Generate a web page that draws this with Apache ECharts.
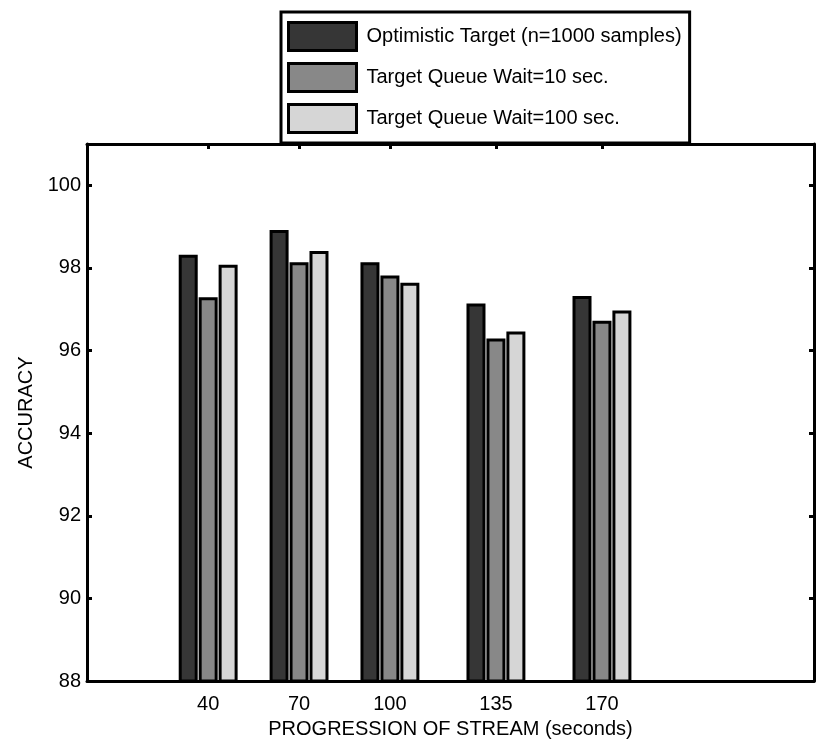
<!DOCTYPE html>
<html>
<head>
<meta charset="utf-8">
<script src="https://cdn.jsdelivr.net/npm/echarts@6/dist/echarts.min.js"></script>
<style>
  html, body { margin: 0; padding: 0; background: #fff; }
  #chart { width: 816px; height: 744px; }
</style>
</head>
<body>
<div id="chart"></div>
<script>
// Stream progression points (seconds) where accuracy was measured
const streamSeconds = [40, 70, 100, 135, 170];

// Accuracy per strategy
const optimisticTarget = [98.32, 98.92, 98.14, 97.14, 97.32];
const queueWait10 = [97.29, 98.14, 97.82, 96.29, 96.72];
const queueWait100 = [98.08, 98.41, 97.64, 96.46, 96.97];

const seriesNames = [
  'Optimistic Target (n=1000 samples)',
  'Target Queue Wait=10 sec.',
  'Target Queue Wait=100 sec.'
];

// Y axis tick values
const accuracyTicks = [88, 90, 92, 94, 96, 98, 100];

const FONT = 'Liberation Sans, Arial, sans-serif';
const fills = ['#363636', '#888888', '#d6d6d6'];

function pairs(values) {
  return streamSeconds.map((s, i) => [s, values[i]]);
}

function barSeries(name, values, color) {
  return {
    name: name,
    type: 'bar',
    data: pairs(values),
    barWidth: 19,
    barGap: '5%',
    itemStyle: { color: color, borderColor: '#000', borderWidth: 3 },
    emphasis: { disabled: true }
  };
}

const chart = echarts.init(document.getElementById('chart'), null, { renderer: 'canvas' });

const axisLine = { show: true, onZero: false, lineStyle: { color: '#000', width: 3 } };
const tickStyle = { color: '#000', width: 3 };

chart.setOption({
  animation: false,
  backgroundColor: '#fff',
  textStyle: { fontFamily: FONT },
  grid: { left: 87, right: 2, top: 144, bottom: 61, containLabel: false },
  legend: {
    orient: 'vertical',
    left: 281,
    top: 12,
    padding: [9, 8, 9, 6],
    itemWidth: 68,
    itemHeight: 28,
    itemGap: 10,
    icon: 'rect',
    backgroundColor: '#fff',
    borderColor: '#000',
    borderWidth: 3,
    borderRadius: 0,
    selectedMode: false,
    itemStyle: { borderColor: '#000', borderWidth: 3 },
    textStyle: { fontSize: 20, color: '#000', fontFamily: FONT, padding: [0, 0, 0, 5] },
    data: seriesNames
  },
  xAxis: [
    {
      type: 'value',
      min: 0,
      max: 240,
      position: 'bottom',
      name: 'PROGRESSION OF STREAM (seconds)',
      nameLocation: 'middle',
      nameGap: 33,
      nameTextStyle: { fontSize: 20, color: '#000', fontFamily: FONT, verticalAlign: 'top' },
      axisLine: axisLine,
      axisTick: { show: true, inside: true, length: 5, customValues: streamSeconds, lineStyle: tickStyle },
      axisLabel: { show: true, customValues: streamSeconds, fontSize: 20, color: '#000', margin: 13, fontFamily: FONT },
      splitLine: { show: false }
    },
    {
      type: 'value',
      min: 0,
      max: 240,
      position: 'top',
      axisLine: axisLine,
      axisTick: { show: true, inside: true, length: 5, customValues: streamSeconds, lineStyle: tickStyle },
      axisLabel: { show: false },
      splitLine: { show: false }
    }
  ],
  yAxis: [
    {
      type: 'value',
      min: 88,
      max: 101,
      position: 'left',
      name: 'ACCURACY',
      nameLocation: 'middle',
      nameRotate: 90,
      nameGap: 50,
      nameTextStyle: { fontSize: 20, color: '#000', fontFamily: FONT },
      axisLine: axisLine,
      axisTick: { show: true, inside: true, length: 5, customValues: accuracyTicks, lineStyle: tickStyle },
      axisLabel: { show: true, customValues: accuracyTicks, fontSize: 20, color: '#000', margin: 6, fontFamily: FONT },
      splitLine: { show: false }
    },
    {
      type: 'value',
      min: 88,
      max: 101,
      position: 'right',
      axisLine: axisLine,
      axisTick: { show: true, inside: true, length: 5, customValues: accuracyTicks, lineStyle: tickStyle },
      axisLabel: { show: false },
      splitLine: { show: false }
    }
  ],
  series: [
    barSeries(seriesNames[0], optimisticTarget, fills[0]),
    barSeries(seriesNames[1], queueWait10, fills[1]),
    barSeries(seriesNames[2], queueWait100, fills[2])
  ]
});
</script>
</body>
</html>
